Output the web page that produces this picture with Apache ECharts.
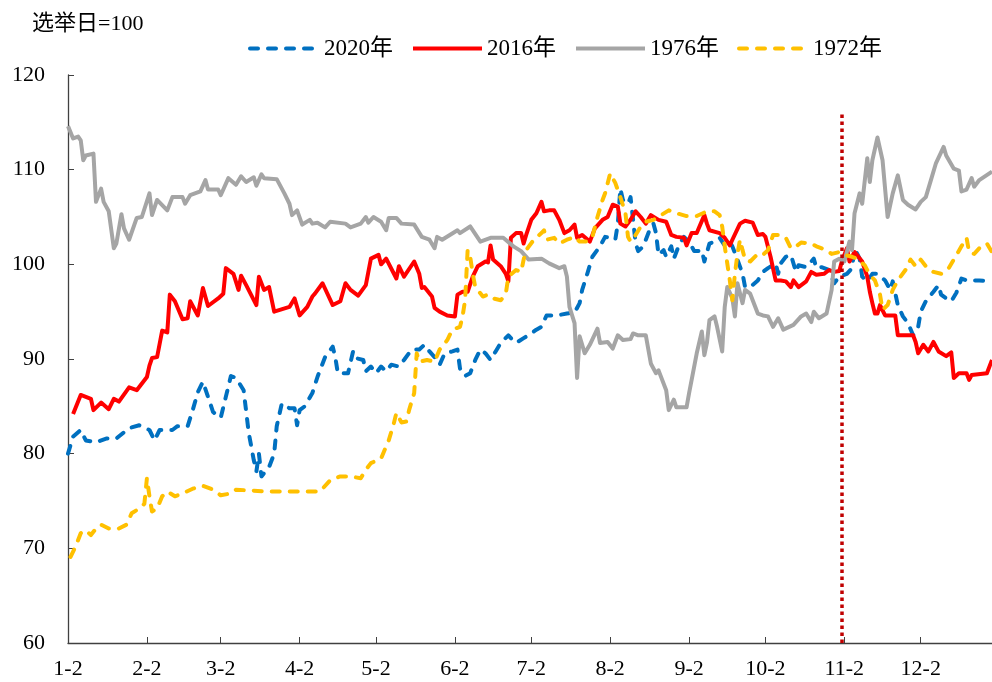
<!DOCTYPE html>
<html>
<head>
<meta charset="utf-8">
<script src="https://cdn.jsdelivr.net/npm/echarts@6/dist/echarts.min.js"></script>
<style>
  html, body { margin: 0; padding: 0; background: #fff; }
  #main { width: 992px; height: 682px; }
</style>
</head>
<body>
<div id="main"></div>
<script>
// 选举日=100, x = 从1月2日起的天数 (闰年)
var seriesNames = ['2020年', '2016年', '1976年', '1972年'];
var yTicks = [60, 70, 80, 90, 100, 110, 120];
var electionDay = 304; // 11-1

var y2020 = [[0,80.0],[2,81.8],[5,82.5],[7,81.4],[11,81.2],[15,81.6],[19,81.6],[24,82.7],[28,83.0],[32,82.5],[34,81.4],[36,82.5],[41,82.5],[43,82.9],[47,82.9],[49,84.6],[51,86.5],[53,87.6],[55,86.0],[57,84.4],[60,83.8],[62,86.0],[64,88.2],[66,88.0],[69,86.7],[71,82.2],[73,79.3],[74,78.1],[75,80.0],[76,77.6],[79,78.6],[81,80.0],[82,82.9],[84,85.3],[87,84.8],[89,84.8],[90,83.0],[91,84.6],[93,85.0],[96,86.4],[98,88.1],[101,90.2],[104,91.3],[105,90.2],[106,88.5],[110,88.5],[112,90.8],[113,90.1],[116,89.9],[117,88.7],[119,89.2],[121,88.5],[123,89.2],[125,88.7],[127,89.4],[130,89.2],[132,89.9],[135,91.0],[138,91.0],[140,91.5],[142,90.8],[144,90.2],[146,89.4],[148,90.6],[151,90.8],[153,91.0],[154,89.0],[156,88.2],[158,88.5],[160,89.9],[162,91.0],[164,90.6],[166,89.9],[168,90.8],[170,91.7],[173,92.5],[174,92.2],[176,91.7],[179,92.2],[182,92.7],[184,93.1],[186,93.4],[188,94.6],[192,94.6],[196,94.8],[199,94.9],[201,95.9],[202,97.3],[204,99.0],[206,100.8],[209,101.9],[211,102.9],[213,102.8],[215,102.6],[216,104.3],[217,108.0],[218,106.8],[220,106.4],[221,107.1],[222,104.7],[223,102.2],[224,101.4],[226,101.9],[227,102.6],[229,104.0],[230,104.3],[231,103.3],[232,101.0],[234,101.5],[235,100.8],[237,101.9],[238,100.6],[240,102.0],[242,102.9],[244,102.4],[246,101.4],[248,101.4],[249,101.5],[250,100.3],[252,102.2],[254,102.4],[256,102.8],[258,102.0],[260,102.4],[261,101.9],[263,100.5],[265,99.0],[266,97.6],[268,97.6],[271,98.3],[273,99.2],[275,99.6],[278,100.1],[279,99.0],[280,100.1],[282,100.8],[284,101.0],[286,99.2],[287,99.9],[290,99.7],[293,100.6],[294,99.6],[296,99.7],[299,99.4],[301,98.0],[303,98.7],[306,99.0],[308,99.6],[309,101.7],[311,100.6],[312,98.7],[314,98.2],[316,99.0],[318,99.0],[321,98.3],[323,97.3],[324,98.2],[326,95.7],[328,94.5],[330,93.8],[332,92.5],[334,93.4],[335,95.0],[337,96.1],[340,97.1],[342,97.8],[343,96.8],[345,96.4],[347,96.1],[349,97.0],[351,98.5],[353,98.3],[358,98.3],[363,98.2]];

var y2016 = [[2,84.2],[5,86.2],[9,85.8],[10,84.6],[13,85.4],[16,84.7],[18,85.8],[20,85.5],[24,87.0],[27,86.7],[31,88.1],[32,89.3],[33,90.1],[35,90.2],[37,93.0],[39,92.8],[40,96.8],[42,96.1],[45,94.2],[47,94.3],[48,96.1],[51,94.6],[53,97.5],[55,95.6],[59,96.4],[61,96.9],[62,99.6],[65,99.0],[67,97.3],[68,98.8],[70,97.8],[74,95.7],[75,98.7],[77,97.3],[79,97.6],[81,95.0],[87,95.5],[89,96.4],[91,94.6],[94,95.5],[96,96.6],[97,96.9],[100,98.0],[104,95.7],[107,96.1],[109,98.0],[111,97.3],[114,96.7],[117,97.8],[119,100.6],[122,101.0],[123,100.0],[125,100.6],[129,98.5],[130,99.8],[132,98.7],[136,100.3],[138,99.0],[139,97.5],[140,97.6],[143,96.6],[144,95.4],[146,95.0],[149,94.6],[152,94.5],[153,96.8],[155,97.1],[157,97.1],[159,98.7],[161,99.8],[164,100.3],[165,100.2],[166,102.0],[167,100.5],[170,99.8],[172,99.0],[173,98.2],[174,102.8],[176,103.3],[178,103.3],[179,102.2],[180,103.1],[182,104.7],[184,105.4],[186,106.6],[187,105.6],[189,105.7],[191,105.7],[193,104.7],[195,103.3],[197,103.6],[199,104.2],[200,102.8],[202,103.1],[205,102.4],[207,103.8],[210,104.7],[212,105.0],[214,106.3],[216,106.1],[217,104.3],[219,104.0],[221,104.7],[223,105.6],[225,105.0],[227,104.3],[229,105.2],[232,104.7],[235,104.5],[237,103.1],[239,102.9],[242,102.8],[243,102.0],[245,103.3],[247,103.3],[250,105.2],[251,104.3],[252,103.6],[256,103.3],[258,102.8],[260,102.0],[261,102.6],[264,104.3],[266,104.6],[269,104.4],[271,103.1],[273,103.2],[274,102.9],[276,100.8],[278,98.3],[280,98.3],[282,98.2],[284,97.6],[285,98.3],[287,97.6],[290,98.2],[292,99.2],[294,98.9],[297,99.0],[299,99.4],[301,99.2],[303,99.3],[304,100.3],[306,101.7],[307,100.3],[309,101.3],[312,100.3],[314,98.7],[315,97.1],[316,95.9],[317,94.8],[318,94.8],[319,95.7],[321,94.6],[325,94.6],[326,92.5],[328,92.5],[332,92.5],[333,91.8],[334,90.6],[336,91.5],[338,90.8],[340,91.8],[342,90.8],[345,90.3],[347,90.7],[348,88.0],[350,88.5],[353,88.5],[354,87.8],[355,88.3],[361,88.5],[363,89.9]];

var y1976 = [[0,114.6],[2,113.3],[4,113.5],[5,113.1],[6,111.0],[7,111.5],[10,111.7],[11,106.6],[13,108.0],[14,106.6],[16,105.6],[18,101.7],[19,102.2],[21,105.3],[22,103.8],[24,102.6],[27,104.9],[29,105.0],[32,107.5],[33,105.2],[35,106.8],[39,105.7],[41,107.1],[45,107.1],[46,106.4],[48,107.3],[52,107.7],[54,108.9],[55,107.9],[59,107.9],[60,107.3],[63,109.1],[66,108.4],[68,109.3],[70,108.7],[73,109.2],[74,108.3],[76,109.5],[77,109.1],[82,109.0],[85,107.5],[87,106.4],[88,105.2],[90,105.7],[92,104.2],[95,104.7],[96,104.3],[98,104.4],[101,103.9],[103,104.5],[109,104.3],[111,103.9],[115,104.3],[117,105.0],[118,104.4],[120,105.0],[123,104.5],[125,103.6],[126,104.9],[129,104.9],[131,104.3],[136,104.2],[139,102.9],[142,102.6],[144,101.7],[145,102.9],[147,102.6],[153,103.6],[154,103.3],[158,104.0],[162,102.4],[166,102.8],[171,102.8],[175,101.9],[178,101.4],[181,100.5],[186,100.6],[189,100.1],[193,99.6],[195,99.8],[196,98.7],[197,95.5],[199,93.8],[200,88.0],[201,92.4],[203,90.6],[205,91.5],[208,93.2],[209,91.7],[212,91.8],[214,91.1],[216,92.5],[218,92.0],[221,92.1],[222,92.7],[224,92.5],[227,92.5],[229,89.5],[231,88.5],[232,88.8],[235,86.7],[236,84.6],[238,85.7],[239,84.9],[243,84.9],[244,86.4],[247,90.6],[249,92.9],[250,90.4],[251,91.7],[252,94.1],[254,94.5],[255,93.4],[257,90.8],[258,95.5],[259,97.6],[261,96.4],[262,94.5],[263,98.0],[265,95.9],[266,97.3],[268,96.9],[271,94.8],[273,94.6],[275,94.5],[277,93.4],[279,94.3],[281,93.1],[285,93.6],[288,94.5],[290,94.8],[292,93.9],[293,95.0],[295,94.3],[298,94.8],[300,97.3],[301,100.3],[303,100.6],[305,100.3],[307,102.4],[308,101.5],[309,105.4],[311,107.5],[312,106.4],[314,111.2],[315,108.7],[316,111.0],[318,113.4],[320,111.0],[322,105.0],[324,107.5],[326,109.4],[328,106.8],[330,106.3],[333,105.8],[335,106.6],[337,107.1],[339,108.9],[341,110.7],[344,112.4],[345,111.5],[348,110.1],[350,109.9],[351,107.7],[353,107.9],[355,109.1],[356,108.2],[358,108.9],[363,109.8]];

var y1972 = [[1,69.1],[3,70.2],[5,71.6],[7,71.9],[9,71.4],[11,72.1],[13,72.5],[16,72.1],[20,72.1],[23,72.5],[25,73.7],[28,74.2],[30,74.7],[31,77.4],[32,75.5],[33,73.9],[35,74.2],[37,75.5],[39,76.0],[42,75.5],[45,75.8],[49,76.3],[53,76.6],[57,76.2],[60,75.6],[64,75.8],[66,76.2],[72,76.1],[78,76.0],[88,76.0],[99,76.0],[103,77.2],[107,77.6],[111,77.6],[115,77.4],[117,78.3],[119,79.0],[123,79.5],[126,81.4],[128,83.2],[129,84.3],[131,83.3],[133,83.4],[134,84.6],[136,86.4],[137,90.6],[138,89.7],[141,89.9],[144,89.7],[146,91.0],[149,92.0],[151,93.1],[154,93.4],[155,94.5],[156,96.2],[157,101.5],[158,100.8],[159,99.0],[160,97.6],[163,96.6],[165,96.8],[167,96.4],[170,96.2],[172,96.9],[173,98.7],[176,99.4],[178,99.2],[179,100.5],[180,101.5],[183,102.6],[186,103.3],[187,103.6],[188,102.6],[191,102.8],[193,102.2],[196,102.6],[199,102.9],[201,102.4],[204,102.4],[206,102.9],[208,105.0],[210,106.8],[211,107.5],[213,109.6],[215,108.6],[217,107.1],[219,105.4],[220,102.9],[221,102.4],[223,103.1],[225,104.0],[227,104.5],[230,104.7],[233,105.2],[236,105.7],[239,105.4],[243,105.1],[247,105.1],[251,105.6],[254,105.6],[256,105.2],[257,104.0],[258,101.9],[259,100.1],[260,98.3],[261,96.2],[262,99.0],[263,101.1],[264,102.6],[265,101.5],[266,100.5],[268,100.3],[271,101.1],[273,101.0],[275,101.5],[277,103.1],[280,103.1],[282,102.8],[284,101.7],[286,101.9],[288,102.3],[292,102.2],[294,101.9],[298,101.5],[300,101.1],[303,101.3],[305,101.0],[308,100.8],[310,100.6],[313,99.9],[315,98.9],[317,98.3],[319,96.8],[320,95.2],[322,95.7],[324,97.3],[326,98.3],[329,99.4],[331,100.5],[333,99.8],[335,100.5],[337,99.8],[340,99.2],[343,99.0],[346,99.6],[348,100.5],[351,101.9],[353,102.8],[354,101.3],[356,101.1],[358,101.7],[361,102.2],[363,101.3]];

// 日期类目: 1-2 ... 12-30 (2020 闰年)
var days = [];
for (var i = 0; i <= 363; i++) {
    var d = new Date(Date.UTC(2020, 0, 2 + i));
    days.push((d.getUTCMonth() + 1) + '-' + d.getUTCDate());
}
function isTickDay(idx) { return /-2$/.test(days[idx]); }

var serif = "'Liberation Serif', 'Times New Roman', 'Noto Sans CJK SC', serif";
var chart = echarts.init(document.getElementById('main'));

function line(name, data, color, dashed) {
    return {
        name: name,
        type: 'line',
        data: data,
        symbol: 'none',
        smooth: false,
        lineStyle: {
            color: color,
            width: 4,
            type: dashed ? [8, 10] : 'solid',
            cap: dashed ? 'round' : 'butt',
            join: 'round'
        },
        itemStyle: { color: color }
    };
}

var s = [
    line(seriesNames[0], y2020, '#0070C0', true),
    line(seriesNames[1], y2016, '#FF0000', false),
    line(seriesNames[2], y1976, '#A5A5A5', false),
    line(seriesNames[3], y1972, '#FFC000', true)
];
s[1].markLine = {
    silent: true,
    symbol: 'none',
    label: { show: false },
    lineStyle: { color: '#C00000', width: 3.5, type: [3.5, 3.5] },
    data: [[{ coord: [electionDay, 60] }, { coord: [electionDay, 116] }]]
};

chart.setOption({
    animation: false,
    backgroundColor: '#fff',
    title: {
        text: '选举日=100',
        left: 27, top: 8,
        textStyle: { fontFamily: serif, fontSize: 22, fontWeight: 'normal', color: '#000' }
    },
    legend: {
        data: seriesNames,
        left: 243, top: 32,
        itemWidth: 69, itemHeight: 14,
        itemGap: 18,
        itemStyle: { opacity: 0 },
        lineStyle: { width: 4 },
        textStyle: { fontFamily: serif, fontSize: 23, color: '#000' }
    },
    grid: { left: 68, right: 0, top: 75, bottom: 39, containLabel: false },
    xAxis: {
        type: 'category',
        data: days,
        boundaryGap: false,
        axisLine: { lineStyle: { color: '#404040', width: 1.3 } },
        axisTick: { inside: true, length: 6, interval: function (idx) { return isTickDay(idx); }, lineStyle: { color: '#404040' } },
        axisLabel: {
            interval: function (idx) { return isTickDay(idx); },
            fontFamily: serif, fontSize: 22, color: '#000', margin: 15
        },
        splitLine: { show: false }
    },
    yAxis: {
        type: 'value',
        min: yTicks[0], max: yTicks[yTicks.length - 1], interval: 10,
        axisLine: { show: true, lineStyle: { color: '#404040', width: 1.3 } },
        axisTick: { show: true, inside: true, length: 6, lineStyle: { color: '#404040' } },
        axisLabel: { fontFamily: serif, fontSize: 22, color: '#000', margin: 23 },
        splitLine: { show: false }
    },
    series: s
});
</script>
</body>
</html>
